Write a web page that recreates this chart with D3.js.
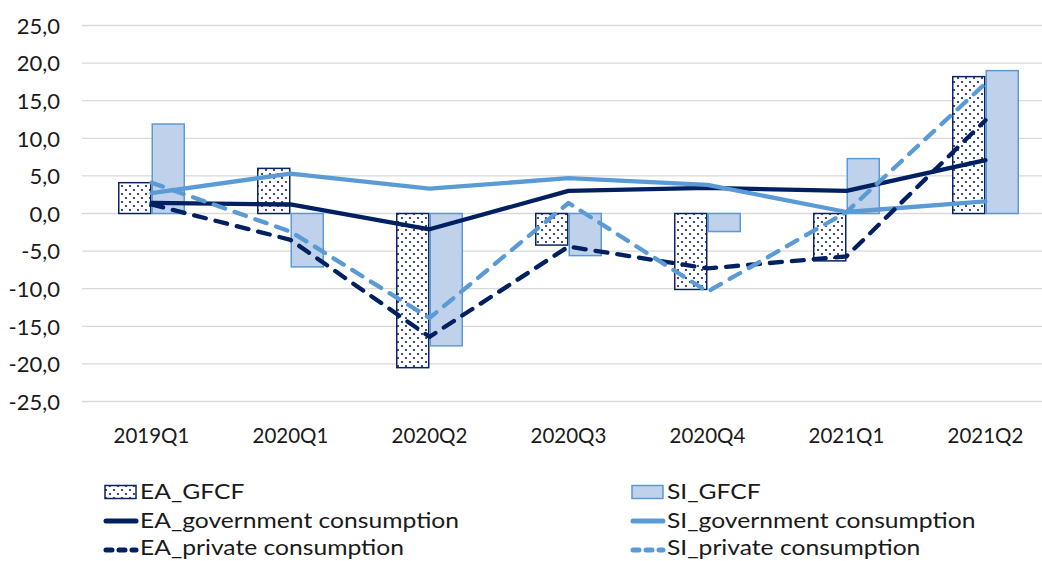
<!DOCTYPE html>
<html>
<head>
<meta charset="utf-8">
<script src="https://cdn.jsdelivr.net/npm/d3@7"></script>
<style>
html,body{margin:0;padding:0;background:#fff;}
svg{display:block;}
text{font-family:Lato,"Open Sans",sans-serif;fill:#1a1a1a;}
</style>
</head>
<body>
<svg id="chart" width="1042" height="561"></svg>
<script>
const categories = ["2019Q1","2020Q1","2020Q2","2020Q3","2020Q4","2021Q1","2021Q2"];
const EA_GFCF = [4.1, 6.0, -20.5, -4.2, -10.1, -6.3, 18.2];
const SI_GFCF = [11.9, -7.1, -17.6, -5.6, -2.4, 7.3, 19.0];
const EA_gov = [1.4, 1.2, -2.1, 3.0, 3.4, 3.0, 7.1];
const SI_gov = [2.7, 5.3, 3.3, 4.7, 3.8, 0.2, 1.6];
const EA_priv = [1.2, -3.5, -16.4, -4.4, -7.3, -5.7, 12.4];
const SI_priv = [4.1, -2.4, -13.9, 1.4, -10.4, 0.2, 17.3];
const yTicks = [-25,-20,-15,-10,-5,0,5,10,15,20,25];
const legendNames = ["EA_GFCF","SI_GFCF","EA_government consumption","SI_government consumption","EA_private consumption","SI_private consumption"];

const navy = "#0c2461", navyLine = "#002060", light = "#5b9bd5", lightFill = "#bfd1eb";
const svg = d3.select("#chart");

const defs = svg.append("defs");
const pat = defs.append("pattern").attr("id","dots").attr("patternUnits","userSpaceOnUse")
  .attr("width",8).attr("height",8);
pat.append("rect").attr("width",8).attr("height",8).attr("fill","#fff");
pat.append("circle").attr("cx",2).attr("cy",2).attr("r",1.1).attr("fill",navy);
pat.append("circle").attr("cx",6).attr("cy",6).attr("r",1.1).attr("fill",navy);

const x = d3.scaleBand().domain(categories).range([82, 1055]);
const inner = d3.scaleBand().domain(["EA","SI"]).range([36, 103]);
const y = d3.scaleLinear().domain([-25, 25]).range([401.5, 25.5]);

// grid
svg.append("g").selectAll("line").data(yTicks).join("line")
  .attr("x1", 82).attr("x2", 1042)
  .attr("y1", d => y(d)).attr("y2", d => y(d))
  .attr("stroke", "#d9d9d9").attr("stroke-width", 1.3);

// y axis labels
const yAxis = d3.axisLeft(y).tickValues(yTicks).tickSize(0).tickPadding(0)
  .tickFormat(d => d3.format(".1f")(d).replace(".", ",").replace("−","-"));
const ya = svg.append("g").attr("transform","translate(60,0)").call(yAxis);
ya.select(".domain").remove();
ya.selectAll("text").attr("font-size", 22).attr("font-family","Lato,sans-serif").attr("fill","#1a1a1a").attr("dy","0.35em");

// x axis labels
const xAxis = d3.axisBottom(x).tickSize(0).tickPadding(0);
const xa = svg.append("g").attr("transform","translate(0,428)").call(xAxis);
xa.select(".domain").remove();
xa.selectAll("text").attr("font-size", 20.5).attr("font-family","Lato,sans-serif").attr("fill","#1a1a1a");

// bars
const barW = inner.bandwidth();
svg.append("g").selectAll("rect").data(categories.map((c,i)=>({c, v:EA_GFCF[i]}))).join("rect")
  .attr("x", d => x(d.c) + inner("EA") + 0.75)
  .attr("width", barW - 1.5)
  .attr("y", d => Math.min(y(d.v), y(0)))
  .attr("height", d => Math.abs(y(d.v) - y(0)))
  .attr("fill", "url(#dots)").attr("stroke", navy).attr("stroke-width", 1.5);
svg.append("g").selectAll("rect").data(categories.map((c,i)=>({c, v:SI_GFCF[i]}))).join("rect")
  .attr("x", d => x(d.c) + inner("SI") + 0.75)
  .attr("width", barW - 1.5)
  .attr("y", d => Math.min(y(d.v), y(0)))
  .attr("height", d => Math.abs(y(d.v) - y(0)))
  .attr("fill", lightFill).attr("stroke", light).attr("stroke-width", 1.5);

// lines
const line = d3.line().x((d,i) => x(categories[i]) + x.bandwidth()/2).y(d => y(d));
const series = [
  {data: EA_gov, color: navyLine, dash: null},
  {data: SI_gov, color: light, dash: null},
  {data: EA_priv, color: navyLine, dash: "12 10"},
  {data: SI_priv, color: light, dash: "12 10"}
];
series.forEach(s => {
  svg.append("path").datum(s.data).attr("d", line)
    .attr("fill","none").attr("stroke", s.color).attr("stroke-width", 4.3)
    .attr("stroke-linejoin","round")
    .attr("stroke-linecap", "round")
    .attr("stroke-dasharray", s.dash);
});

// legend
const legend = [
  {type:"bar", fill:"url(#dots)", stroke:navy, col:0, row:0},
  {type:"bar", fill:lightFill, stroke:light, col:1, row:0},
  {type:"line", color:navyLine, col:0, row:1},
  {type:"line", color:light, col:1, row:1},
  {type:"dash", color:navyLine, col:0, row:2},
  {type:"dash", color:light, col:1, row:2}
];
const colX = [104, 631], rowY = [492, 521, 550], textShift = [0, 0, -2];
const lg = svg.append("g");
legend.forEach((l, i) => {
  const gx = colX[l.col], gy = rowY[l.row];
  if (l.type === "bar") {
    lg.append("rect").attr("x", gx+1).attr("y", gy-6.5).attr("width", 31).attr("height", 13)
      .attr("fill", l.fill).attr("stroke", l.stroke).attr("stroke-width", 1.5);
  } else {
    lg.append("line").attr("x1", gx+2).attr("x2", gx+32).attr("y1", gy).attr("y2", gy)
      .attr("stroke", l.color).attr("stroke-width", 5).attr("stroke-linecap","round")
      .attr("stroke-dasharray", l.type === "dash" ? "6 7" : null);
  }
  const t = lg.append("text").attr("x", gx+36).attr("y", gy + textShift[l.row]).attr("dy","0.33em")
    .attr("font-size", 22).text(legendNames[i]);
  const w = t.node().getComputedTextLength();
  t.attr("textLength", w * 1.12).attr("lengthAdjust", "spacingAndGlyphs");
});
</script>
</body>
</html>
